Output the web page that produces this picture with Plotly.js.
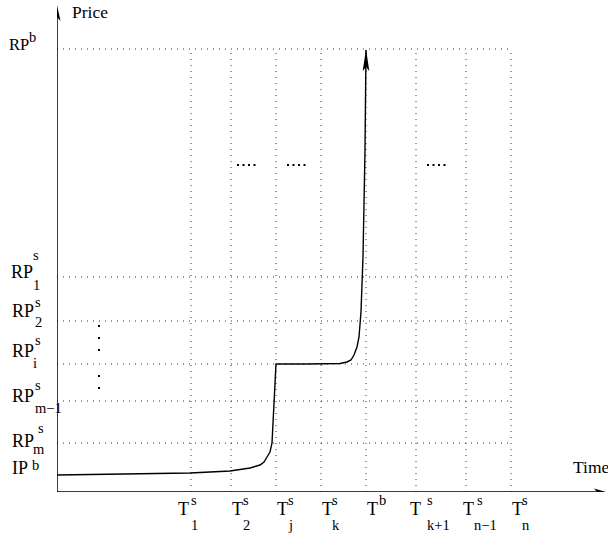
<!DOCTYPE html>
<html>
<head>
<meta charset="utf-8">
<script src="https://cdn.plot.ly/plotly-3.0.1.min.js"></script>
<style>html,body{margin:0;padding:0;background:#fff;}#chart{width:608px;height:537px;}</style>
</head>
<body>
<div id="chart"></div>
<script>
// ---- data (time / price units) ----
const timeTicks = [134, 174, 219, 264, 309, 359, 409, 454];
const timeBase  = ['T', 'T', 'T', 'T', 'T', 'T', 'T', 'T'];
const timeSup   = ['s', 's', 's', 's', 'b', 's', 's', 's'];
const timeSub   = ['1', '2', 'j', 'k', '', 'k+1', 'n\u22121', 'n'];

const priceLevels = [443, 215, 171, 128, 91, 49, 17];
const priceBase   = ['RP', 'RP', 'RP', 'RP', 'RP', 'RP', 'IP'];
const priceSup    = ['b', 's', 's', 's', 's', 's', 'b'];
const priceSub    = ['', '1', '2', 'i', 'm\u22121', 'm', ''];

const curveTime  = [0, 93, 133, 173, 193, 203, 207, 210, 213, 215, 216, 217, 218, 219, 250, 273, 283, 290, 294, 297, 300, 302, 304, 306, 308, 309];
const curvePrice = [17, 18, 19, 21, 24, 27, 30, 35, 40, 49, 72, 92, 110, 128, 128, 128, 128.5, 130, 132, 137, 145, 155, 180, 235, 342, 442];

const xAxisTitle = 'Time';
const yAxisTitle = 'Price';

// ---- layout constants ----
const M = {l: 57, r: 0, t: 4, b: 45, pad: 0};
const W = 608, H = 537;
const xMax = W - M.l - M.r;     // 1 unit = 1 px
const yMax = H - M.t - M.b;
const FONT = '"Liberation Serif", "Times New Roman", serif';
const baseSize = 18, scriptSize = 14.5;

// label offsets (pixels): base left, sup left, sub left relative to tick line
const timeLabelPos = [
  {b: -13, s: 0, u: 0}, {b: 1, s: 12, u: 12}, {b: 1, s: 12, u: 12}, {b: 1, s: 11, u: 11},
  {b: 1, s: 13, u: 0}, {b: -6, s: 11, u: 11}, {b: -3, s: 11, u: 8}, {b: 1, s: 11, u: 11}
];
// absolute left px and baseline offsets (down, px) relative to level line
const priceLabelPos = [
  {b: 9, bb: 1, s: 29, sb: -7, u: 0, ub: 0, f: 16.5},
  {b: 11, bb: 1, s: 33, sb: -17, u: 33, ub: 13, f: 18},
  {b: 12, bb: -4, s: 35, sb: -14, u: 35, ub: 6, f: 18},
  {b: 12, bb: -7, s: 35, sb: -19, u: 33, ub: 4, f: 18},
  {b: 12, bb: 1, s: 35, sb: -11, u: 35, ub: 12, f: 18},
  {b: 12, bb: 4, s: 38, sb: -10, u: 33, ub: 11, f: 18},
  {b: 12, bb: -1, s: 32, sb: -5, u: 0, ub: 0, f: 18}
];

function txt(x, y, text, size, dx, down) {
  return {
    x: x, y: y, xref: 'x', yref: 'y', text: text, showarrow: false,
    xanchor: 'left', yanchor: 'middle', xshift: dx, yshift: -down + 0.3375 * size,
    borderpad: 0, borderwidth: 0,
    font: {family: FONT, size: size, color: '#000'}
  };
}

const annotations = [];
timeTicks.forEach((t, i) => {
  const p = timeLabelPos[i];
  annotations.push(txt(t, 0, timeBase[i], baseSize, p.b, 23));
  if (timeSup[i]) annotations.push(txt(t, 0, timeSup[i], scriptSize, p.s, 13));
  if (timeSub[i]) annotations.push(txt(t, 0, timeSub[i], scriptSize, p.u, 38));
});
priceLevels.forEach((v, i) => {
  const p = priceLabelPos[i];
  annotations.push(txt(0, v, priceBase[i], p.f, p.b - M.l, p.bb));
  if (priceSup[i]) annotations.push(txt(0, v, priceSup[i], scriptSize, p.s - M.l, p.sb));
  if (priceSub[i]) annotations.push(txt(0, v, priceSub[i], scriptSize, p.u - M.l, p.ub));
});
annotations.push(txt(15, yMax, yAxisTitle, 17.5, 0, 14));
annotations.push(txt(xMax, 0, xAxisTitle, 17.5, -35, -19));

const dotLine = {color: '#333', width: 1, dash: '1px,5px'};
const shapes = [];
// horizontal reference levels (reserve prices)
priceLevels.forEach((v, i) => {
  if (priceBase[i] === 'RP') {
    shapes.push({type: 'line', xref: 'x', yref: 'y', x0: 0, x1: timeTicks[timeTicks.length - 1], y0: v, y1: v, line: dotLine, layer: 'below'});
  }
});
// vertical deadlines
timeTicks.forEach(t => {
  shapes.push({type: 'line', xref: 'x', yref: 'y', x0: t, x1: t, y0: 0, y1: priceLevels[0], line: dotLine, layer: 'below'});
});
// axes
shapes.push({type: 'line', xref: 'x', yref: 'y', x0: 0, x1: 0, y0: 0, y1: yMax - 12, line: {color: '#000', width: 1.5}});
shapes.push({type: 'line', xref: 'x', yref: 'y', x0: 0, x1: xMax - 10, y0: 0, y1: 0, line: {color: '#000', width: 1.5}});
function head(xa, ya, path) {
  return {type: 'path', xref: 'x', yref: 'y', xsizemode: 'pixel', ysizemode: 'pixel',
          xanchor: xa, yanchor: ya, path: path, fillcolor: '#000', line: {width: 0}};
}
shapes.push(head(0, yMax - 1, 'M0,0 L-3.5,-16 L0,-12 L3.5,-16 Z'));
shapes.push(head(xMax - 2, 0, 'M0,0 L-12,3.5 L-9,0 L-12,-3.5 Z'));
const lastI = curveTime.length - 1;
shapes.push(head(curveTime[lastI], priceLevels[0], 'M0,0 L-3.3,-22 L0,-18 L3.3,-22 Z'));
// ellipsis dots
function dot(xa, ya, px, py) {
  return {type: 'rect', xref: 'x', yref: 'y', xsizemode: 'pixel', ysizemode: 'pixel',
          xanchor: xa, yanchor: ya, x0: px - 1, x1: px + 1, y0: py - 1, y1: py + 1,
          fillcolor: '#000', line: {width: 0}};
}
[181, 231, 371].forEach(x0 => {
  for (let k = 0; k < 4; k++) shapes.push(dot(x0, 327, k * 5.5, 0));
});
[166, 154, 142, 116, 104].forEach(y => shapes.push(dot(42, y, 0, 0)));

const traces = [{
  x: curveTime, y: curvePrice, type: 'scatter', mode: 'lines',
  line: {color: '#000', width: 1.4}, hoverinfo: 'skip', showlegend: false, cliponaxis: false
}];

const layout = {
  width: W, height: H, margin: M,
  paper_bgcolor: '#fff', plot_bgcolor: '#fff',
  font: {family: FONT},
  showlegend: false,
  xaxis: {range: [0, xMax], visible: false, fixedrange: true},
  yaxis: {range: [0, yMax], visible: false, fixedrange: true},
  shapes: shapes, annotations: annotations
};

Plotly.newPlot('chart', traces, layout, {staticPlot: true, displayModeBar: false});
</script>
</body>
</html>
